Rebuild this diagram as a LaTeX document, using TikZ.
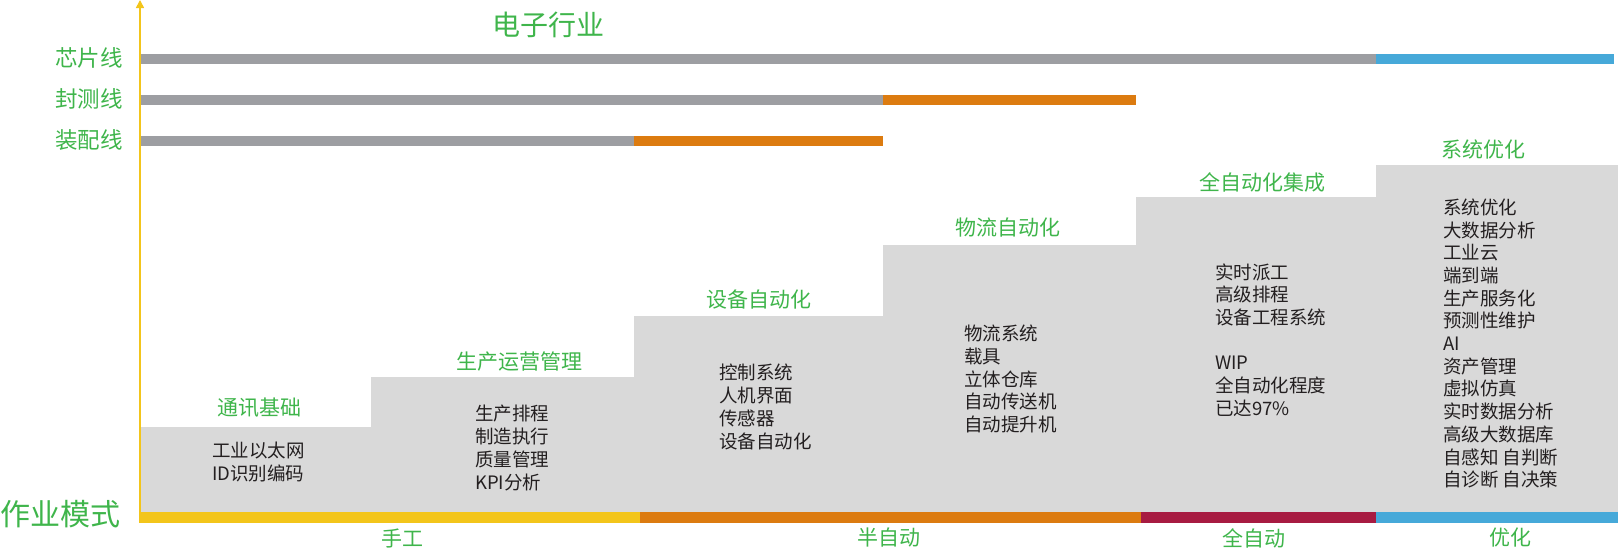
\documentclass[tikz,border=0pt]{standalone}
\usepackage{fontspec}
\setmainfont{Noto Sans CJK SC}
\usetikzlibrary{arrows.meta}
\definecolor{barGray}{HTML}{9D9EA2}
\definecolor{stepGray}{HTML}{D9D9D9}
\definecolor{cOrange}{HTML}{DC7B10}
\definecolor{cRed}{HTML}{A71B41}
\definecolor{cBlue}{HTML}{46A9D9}
\definecolor{cYellow}{HTML}{F3C51B}
\definecolor{cGreen}{HTML}{3FB54B}
\definecolor{cText}{HTML}{231F20}
\tikzset{
  greenlbl/.style={text=cGreen, inner sep=0pt, font=\fontsize{21}{24}\selectfont},
  linelbl/.style={text=cGreen, inner sep=0pt, anchor=east, font=\fontsize{22.5}{26}\selectfont},
  listtxt/.style={text=cText, inner sep=0pt, anchor=west, align=left, font=\fontsize{18.5}{22.7}\selectfont},
}
\begin{document}
\begin{tikzpicture}[x=1pt,y=-1pt]
\useasboundingbox (0,0) rectangle (1618,552);
% gray steps
\fill[stepGray] (141,512) -- (141,427) -- (371,427) -- (371,377) -- (634,377) -- (634,316)
  -- (883,316) -- (883,245) -- (1136,245) -- (1136,197) -- (1376,197) -- (1376,165)
  -- (1618,165) -- (1618,512) -- cycle;
% line bars
\fill[barGray] (141,54) rectangle (1376,64);
\fill[cBlue] (1376,54) rectangle (1614,64);
\fill[barGray] (141,95) rectangle (883,105);
\fill[cOrange] (883,95) rectangle (1136,105);
\fill[barGray] (141,136) rectangle (634,146);
\fill[cOrange] (634,136) rectangle (883,146);
% bottom bar
\fill[cYellow] (139,512) rectangle (640,523);
\fill[cOrange] (640,512) rectangle (1141,523);
\fill[cRed] (1141,512) rectangle (1376,523);
\fill[cBlue] (1376,512) rectangle (1618,523);
% axis
\coordinate (axb) at (140,522);
\coordinate (axt) at (140,0);
\draw[cYellow, line width=1.6pt, -{Triangle[width=8pt,length=8pt]}] (axb) -- (axt);
% titles
\node[greenlbl, font=\fontsize{28}{32}\selectfont] (ind) at (548,25) {电子行业};
\node[linelbl] (l1) at (123,58) {芯片线};
\node[linelbl] (l2) at (123,99) {封测线};
\node[linelbl] (l3) at (123,140) {装配线};
\node[text=cGreen, inner sep=0pt, anchor=west, font=\fontsize{30}{34}\selectfont] (mode) at (0,514) {作业模式};
% step titles
\node[greenlbl] (t1) at (259,408) {通讯基础};
\node[greenlbl] (t2) at (519,362) {生产运营管理};
\node[greenlbl] (t3) at (759,300) {设备自动化};
\node[greenlbl] (t4) at (1008,228) {物流自动化};
\node[greenlbl] (t5) at (1262,182) {全自动化集成};
\node[greenlbl] (t6) at (1483,149) {系统优化};
% step contents
\node[listtxt] (c1) at (212,462) {工业以太网\\ID识别编码};
\node[listtxt] (c2) at (475,448) {生产排程\\制造执行\\质量管理\\KPI分析};
\node[listtxt] (c3) at (719,407) {控制系统\\人机界面\\传感器\\设备自动化};
\node[listtxt] (c4) at (964,379) {物流系统\\载具\\立体仓库\\自动传送机\\自动提升机};
\node[listtxt] (c5) at (1215,340) {实时派工\\高级排程\\设备工程系统\\[22.7pt]WIP\\全自动化程度\\已达97\%};
\node[listtxt] (c6) at (1443,343.5) {系统优化\\大数据分析\\工业云\\端到端\\生产服务化\\预测性维护\\AI\\资产管理\\虚拟仿真\\实时数据分析\\高级大数据库\\自感知 自判断\\自诊断 自决策};
% bottom labels
\node[greenlbl] (b1) at (402,538) {手工};
\node[greenlbl] (b2) at (889,538) {半自动};
\node[greenlbl] (b3) at (1254,538) {全自动};
\node[greenlbl] (b4) at (1510,538) {优化};
\end{tikzpicture}
\end{document}
